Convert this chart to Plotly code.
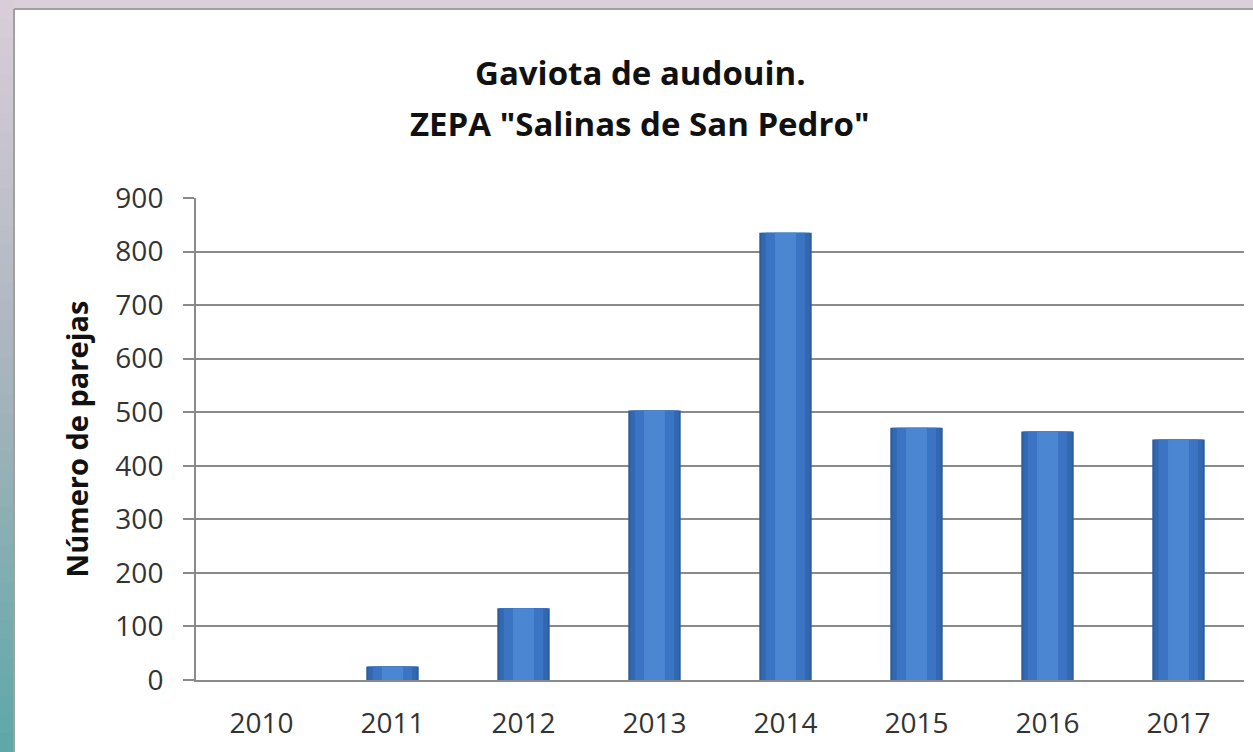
import plotly.graph_objects as go

years = ["2010", "2011", "2012", "2013", "2014", "2015", "2016", "2017"]
parejas = [0, 25, 134, 503, 835, 471, 464, 449]
y_ticks = [0, 100, 200, 300, 400, 500, 600, 700, 800, 900]

title_lines = ["Gaviota de audouin.", 'ZEPA "Salinas de San Pedro"']
y_title = "Número de parejas"

FONT = "Open Sans"
W, H = 1253, 752
L, R, T, B = 196, 9, 198, 72
PW, PH = W - L - R, H - T - B


def px(x):
    return (x - L) / PW


def py(y):
    return (H - B - y) / PH


fig = go.Figure()
layers = [
    (0.40, "#2b5c9e"),
    (0.37, "#3268b0"),
    (0.30, "#3a74c2"),
    (0.16, "#4a86d2"),
]
for w, c in layers:
    fig.add_trace(go.Bar(
        x=years, y=parejas, width=w,
        marker=dict(color=c, line=dict(width=0)),
        hoverinfo="x+y", showlegend=False,
    ))

top = (217, 205, 217)
mid = (168, 180, 188)
bot = (94, 168, 168)
n = 40
shapes = [
    dict(type="rect", xref="paper", yref="paper",
         x0=px(0), x1=px(W), y0=py(9), y1=py(0),
         line=dict(width=0), fillcolor="#dacfda", layer="below"),
]
for i in range(n):
    t = i / (n - 1)
    if t < 0.5:
        a, b, u = top, mid, t / 0.5
    else:
        a, b, u = mid, bot, (t - 0.5) / 0.5
    col = "rgb(%d,%d,%d)" % tuple(round(a[k] + (b[k] - a[k]) * u) for k in range(3))
    y0p = i * H / n
    y1p = (i + 1) * H / n + 1
    shapes.append(dict(type="rect", xref="paper", yref="paper",
                       x0=px(0), x1=px(13), y0=py(y1p), y1=py(y0p),
                       line=dict(width=0), fillcolor=col, layer="below"))
shapes += [
    dict(type="line", xref="paper", yref="paper",
         x0=px(14), x1=px(14), y0=py(H), y1=py(9),
         line=dict(color="#a0a0a0", width=2)),
    dict(type="line", xref="paper", yref="paper",
         x0=px(14), x1=px(W), y0=py(9), y1=py(9),
         line=dict(color="#a0a0a0", width=2)),
]

annotations = [
    dict(text="<b>" + title_lines[0] + "</b>", xref="paper", yref="paper",
         x=px(640), y=py(72), xanchor="center", yanchor="middle",
         showarrow=False, font=dict(size=33, color="#111111", family=FONT)),
    dict(text="<b>" + title_lines[1] + "</b>", xref="paper", yref="paper",
         x=px(640), y=py(123), xanchor="center", yanchor="middle",
         showarrow=False, font=dict(size=33, color="#111111", family=FONT)),
]

fig.update_layout(
    width=W, height=H,
    margin=dict(l=L, r=R, t=T, b=B),
    paper_bgcolor="white", plot_bgcolor="white",
    barmode="overlay",
    font=dict(family=FONT, color="#333333", size=28),
    xaxis=dict(showline=True, linecolor="#8a8a8a", linewidth=2,
               ticks="", tickfont=dict(size=28, color="#333333"),
               ticklabelstandoff=17,
               showgrid=False, fixedrange=True),
    yaxis=dict(range=[0, 900], tickvals=y_ticks, showline=True,
               linecolor="#8a8a8a", linewidth=2, ticks="outside",
               ticklen=11, tickwidth=2, tickcolor="#8a8a8a",
               gridcolor="#8a8a8a", gridwidth=2, zeroline=False,
               tickfont=dict(size=28, color="#333333"),
               ticklabelstandoff=14,
               title=dict(text="<b>" + y_title + "</b>", standoff=18,
                          font=dict(size=29, color="#111111")),
               fixedrange=True),
    shapes=shapes,
    annotations=annotations,
)

fig.write_html("out.html", config={"displayModeBar": False},
               post_script="document.body.style.margin='0';document.body.style.overflow='hidden';")
